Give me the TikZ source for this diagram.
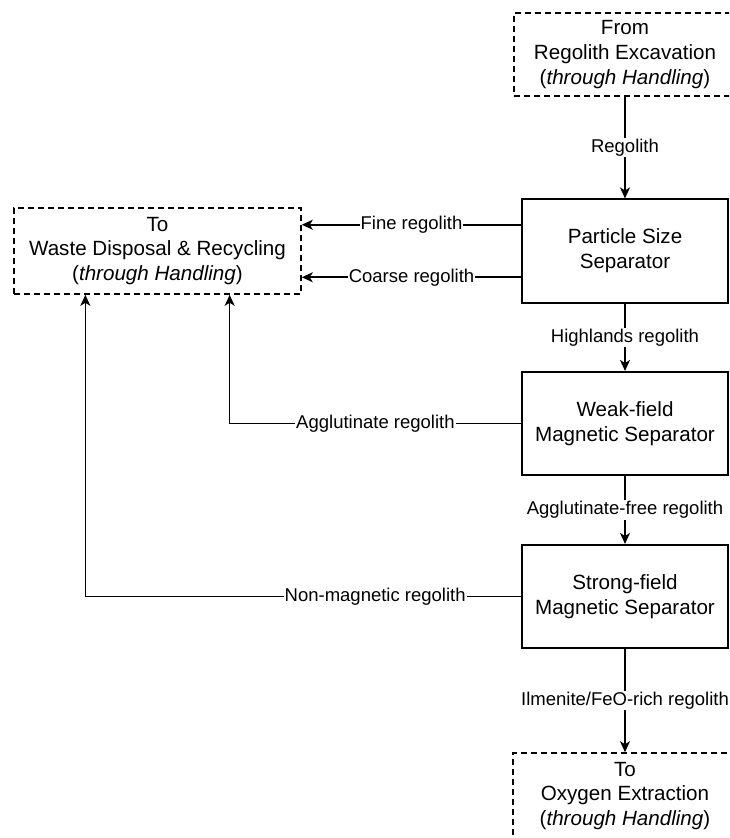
\documentclass[tikz,border=0pt]{standalone}
\usepackage{fontspec}
\setmainfont{Liberation Sans}
\usetikzlibrary{arrows.meta,calc}
\begin{document}
\begin{tikzpicture}[x=1pt,y=-1pt,
  line width=1.6pt,
  boxtext/.style={align=center,font=\fontsize{20.6}{24.7}\selectfont},
  solidbox/.style={boxtext,draw,rectangle,minimum width=206,minimum height=103.5,inner sep=0pt},
  dashbox/.style={boxtext,draw,rectangle,dash pattern=on 6pt off 4pt,inner sep=0pt},
  flow/.style={-{Stealth[length=11pt,width=10pt,inset=3pt]}},
  lbl/.style={fill=white,inner sep=1pt,font=\fontsize{18.5}{22}\selectfont}]
\useasboundingbox (0,0) rectangle (729,838);
\clip (0,0) rectangle (729,838);

% process blocks
\node[dashbox,minimum width=222,minimum height=83] (src) at (625,54.5)
  {From\\Regolith Excavation\\(\textit{through Handling})};
\node[solidbox] (pss) at (625,251) {Particle Size\\Separator};
\node[solidbox] (weak) at (625,423.5) {Weak-field\\Magnetic Separator};
\node[solidbox] (strong) at (625,596.5) {Strong-field\\Magnetic Separator};
\node[dashbox,minimum width=224,minimum height=86] (dest) at (625,796)
  {To\\Oxygen Extraction\\(\textit{through Handling})};
\node[dashbox,minimum width=287,minimum height=86] (waste) at (157.5,251)
  {To\\Waste Disposal \& Recycling\\(\textit{through Handling})};

% attachment points on the separator and waste blocks
\coordinate (pssA) at ($(pss.north west)!0.25!(pss.south west)$);
\coordinate (pssB) at ($(pss.north west)!0.75!(pss.south west)$);
\coordinate (wq1) at ($(waste.south west)!0.25!(waste.south east)$);
\coordinate (wq3) at ($(waste.south west)!0.75!(waste.south east)$);

% main stream
\draw[flow] (src) -- node[lbl] {Regolith} (pss);
\draw[flow] (pss) -- node[lbl] {Highlands regolith} (weak);
\draw[flow] (weak) -- node[lbl] {Agglutinate-free regolith} (strong);
\draw[flow] (strong) -- node[lbl] {Ilmenite/FeO-rich regolith} (dest);

% rejected fractions
\draw[flow] (pssA) -- node[lbl] {Fine regolith} (pssA -| waste.east);
\draw[flow] (pssB) -- node[lbl] {Coarse regolith} (pssB -| waste.east);
\draw[flow] (weak.west) -- node[lbl,pos=0.5] {Agglutinate regolith} (weak.west -| wq3) -- (wq3);
\draw[flow] (strong.west) -- node[lbl,pos=0.335] {Non-magnetic regolith} (strong.west -| wq1) -- (wq1);
\end{tikzpicture}
\end{document}
